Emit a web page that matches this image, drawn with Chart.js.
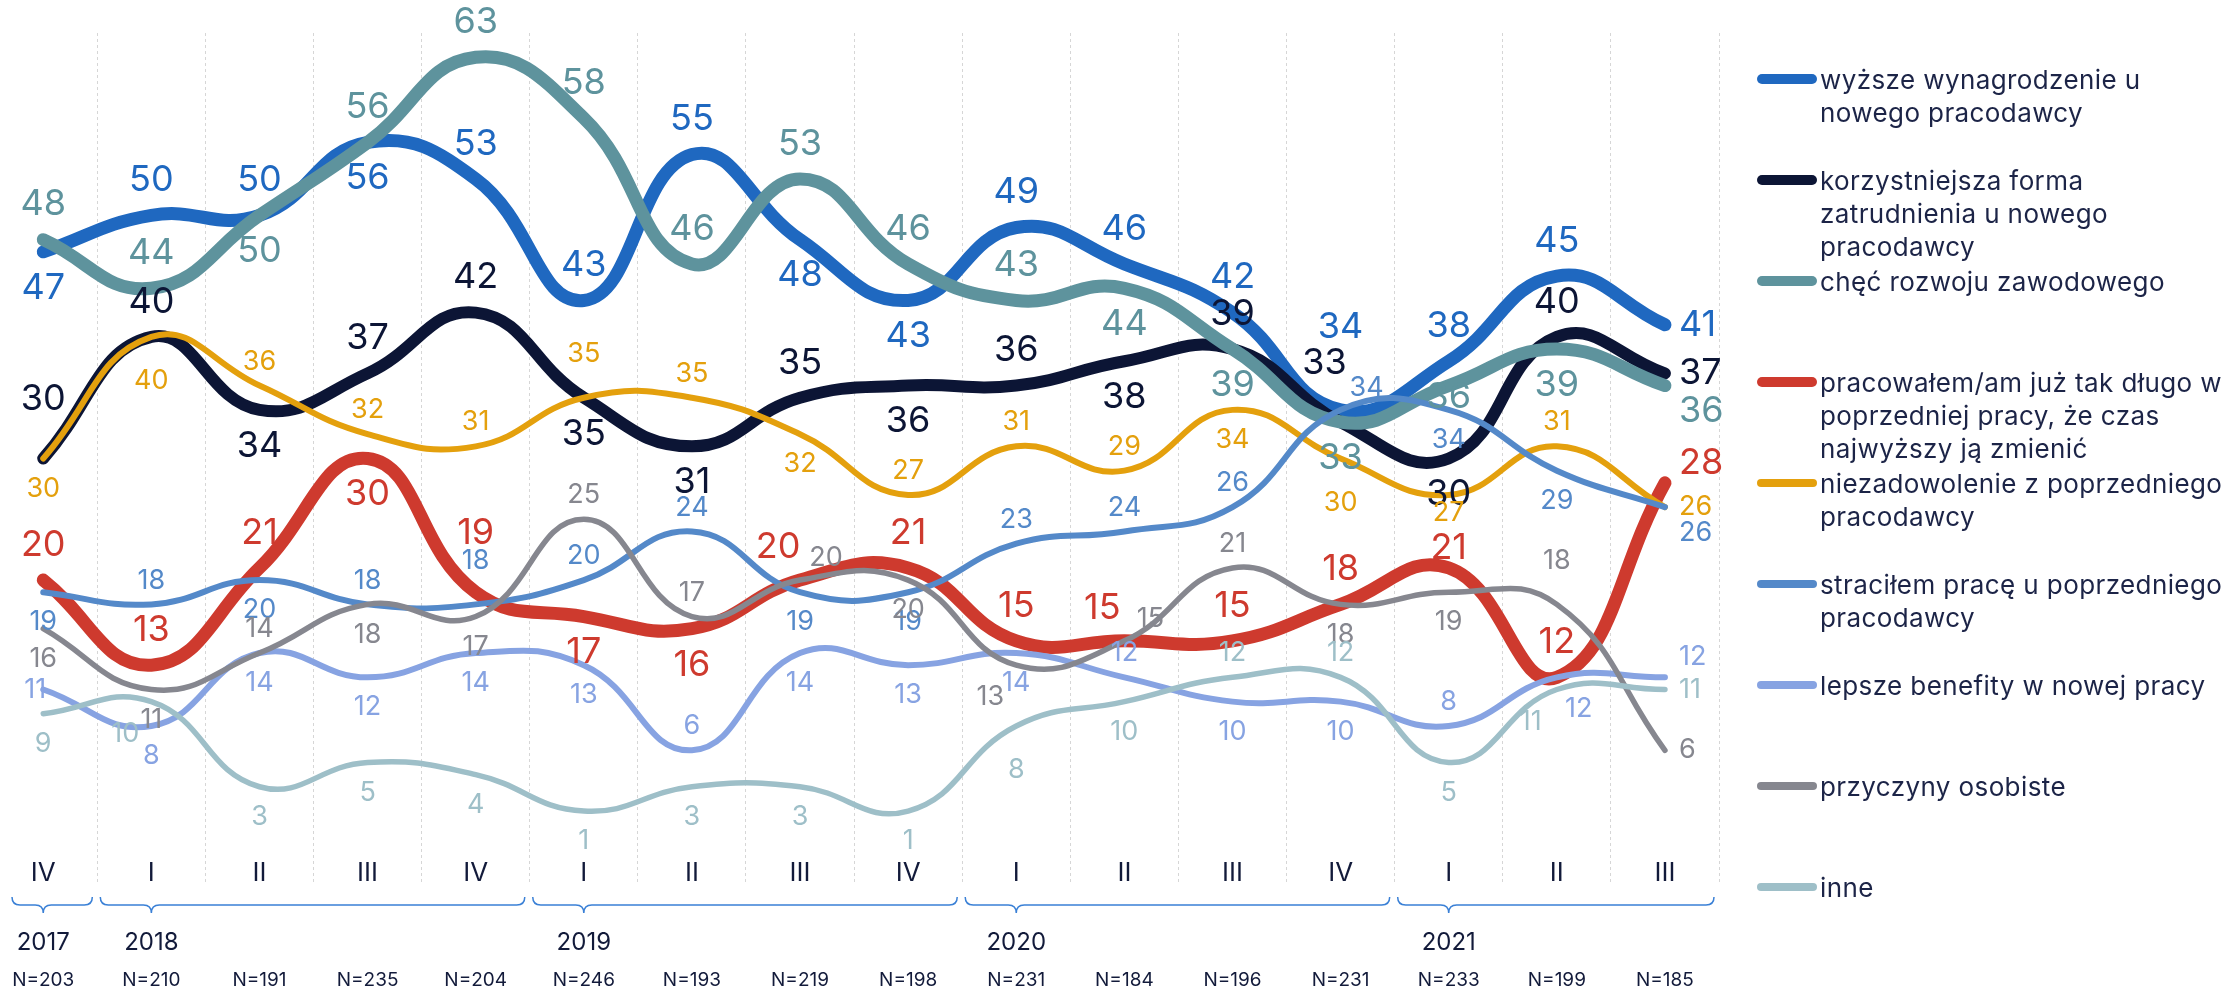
<!DOCTYPE html>
<html>
<head>
<meta charset="utf-8">
<title>Powody zmiany pracy</title>
<script src="https://cdn.jsdelivr.net/npm/chart.js@4.4.1/dist/chart.umd.min.js"></script>
<style>
body { margin: 0; background: #fff; font-family: Inter, sans-serif; }
#wrap { position: relative; width: 2231px; height: 991px; }
#legend { position: absolute; left: 1757px; top: 0; }
.item { position: absolute; left: 0; display: flex; align-items: flex-start; white-space: nowrap; }
.mark { width: 60px; height: 10px; border-radius: 5px; margin-top: 11px; margin-right: 3px; }
.txt { font-size: 26px; letter-spacing: 0.4px; line-height: 33px; color: #1c2447; }
</style>
</head>
<body>
<div id="wrap">
  <canvas id="myChart" width="2231" height="991"></canvas>
  <div id="legend"></div>
</div>

<script>
// categories
const quarters = ['IV','I','II','III','IV','I','II','III','IV','I','II','III','IV','I','II','III'];
const sampleSizes = [203,210,191,235,204,246,193,219,198,231,184,196,231,233,199,185];
const years = ['2017','2018','2019','2020','2021'];
const yearFirst = [0,1,5,9,13];
const yearLast = [0,4,8,12,15];

// series values (%)
const wyzszeWynagrodzenie = [47,50,50,56,53,43,55,48,43,49,46,42,34,38,45,41];
const korzystniejszaForma = [30,40,34,37,42,35,31,35,36,36,38,39,33,30,40,37];
const checRozwoju        = [48,44,50,56,63,58,46,53,46,43,44,39,33,36,39,36];
const pracowalemDlugo    = [20,13,21,30,19,17,16,20,21,15,15,15,18,21,12,28];
const niezadowolenie     = [30,40,36,32,31,35,35,32,27,31,29,34,30,27,31,26];
const stracilemPrace     = [19,18,20,18,18,20,24,19,19,23,24,26,34,34,29,26];
const lepszeBenefity     = [11,8,14,12,14,13,6,14,13,14,12,10,10,8,12,12];
const przyczynyOsobiste  = [16,11,14,18,17,25,17,20,20,13,15,21,18,19,18,6];
const inne               = [9,10,3,5,4,1,3,3,1,8,10,12,12,5,11,11];

// where each value label sits: a/b above/below, as/bs closer, A/AA/B further away,
// al/ar/bl/br/Al shifted sideways, c on the line, r/ra/rb right of the last point
const posWyzsze   = ['b','a','a','b','a','a','a','b','b','a','a','a','AA','a','a','r'];
const posKorzyst  = ['A','a','b','a','a','b','b','a','b','a','b','a','Al','b','a','r'];
const posChec     = ['a','a','b','a','a','a','a','a','a','a','b','b','b','bs','b','rb'];
const posPracow   = ['a','a','a','b','A','b','b','al','a','a','al','a','a','as','a','ra'];
const posNiezad   = ['b','B','a','a','a','A','a','b','a','a','a','b','B','bs','a','r'];
const posStracil  = ['b','a','b','a','A','a','a','b','b','a','a','a','ar','b','b','rb'];
const posLepsze   = ['c','b','b','b','b','b','a','b','b','b','a','b','b','a','br','ra'];
const posPrzycz   = ['b','b','a','b','b','a','a','ar','b','bl','ar','a','b','b','A','r'];
const posInne     = ['b','bl','b','b','b','b','b','b','b','B','b','a','a','b','bl','r'];

const series = [
  { label: ['wyższe wynagrodzenie u', 'nowego pracodawcy'], data: wyzszeWynagrodzenie, pos: posWyzsze, color: '#1f68c0', width: 13 },
  { label: ['korzystniejsza forma', 'zatrudnienia u nowego', 'pracodawcy'], data: korzystniejszaForma, pos: posKorzyst, color: '#0c1535', width: 12 },
  { label: ['chęć rozwoju zawodowego'], data: checRozwoju, pos: posChec, color: '#5e939d', width: 13 },
  { label: ['pracowałem/am już tak długo w', 'poprzedniej pracy, że czas', 'najwyższy ją zmienić'], data: pracowalemDlugo, pos: posPracow, color: '#ce3a2e', width: 13 },
  { label: ['niezadowolenie z poprzedniego', 'pracodawcy'], data: niezadowolenie, pos: posNiezad, color: '#e4a00d', width: 6 },
  { label: ['straciłem pracę u poprzedniego', 'pracodawcy'], data: stracilemPrace, pos: posStracil, color: '#5489c9', width: 6 },
  { label: ['lepsze benefity w nowej pracy'], data: lepszeBenefity, pos: posLepsze, color: '#87a3e2', width: 6 },
  { label: ['przyczyny osobiste'], data: przyczynyOsobiste, pos: posPrzycz, color: '#86878f', width: 5.5 },
  { label: ['inne'], data: inne, pos: posInne, color: '#9ebfc8', width: 5.5 }
];

const navy = '#121a3a';
Chart.defaults.font.family = 'Inter, sans-serif';

// value labels next to every point
const valueLabels = {
  id: 'valueLabels',
  afterDatasetsDraw(chart) {
    const ctx = chart.ctx;
    ctx.save();
    chart.data.datasets.forEach(function (ds, di) {
      const meta = chart.getDatasetMeta(di);
      const thick = ds.borderWidth >= 10;
      const fs = thick ? 36 : 27;
      const up = thick ? 35 : 24;
      const down = thick ? 36 : 30;
      ctx.font = fs + 'px Inter, sans-serif';
      ctx.fillStyle = ds.borderColor;
      ctx.textBaseline = 'middle';
      meta.data.forEach(function (pt, i) {
        const p = ds.labelPos[i];
        let x = pt.x, y = pt.y;
        ctx.textAlign = 'center';
        if (p === 'a') y -= up;
        else if (p === 'b') y += down;
        else if (p === 'as') y -= thick ? 20 : 14;
        else if (p === 'bs') y += thick ? 12 : 18;
        else if (p === 'A') y -= thick ? 59 : 44;
        else if (p === 'Al') { x -= 16; y -= thick ? 59 : 44; }
        else if (p === 'AA') y -= 83;
        else if (p === 'B') y += 44;
        else if (p === 'c') x -= 8;
        else if (p === 'al') { x -= 22; y -= up - 2; }
        else if (p === 'ar') { x += 26; y -= up - 2; }
        else if (p === 'bl') { x -= 26; y += down + 2; }
        else if (p === 'br') { x += 22; y += down + 2; }
        else {
          ctx.textAlign = 'left';
          x += 14;
          if (p === 'ra') y -= 20;
          if (p === 'rb') y += 26;
        }
        ctx.fillText(String(ds.values[i]), x, y);
      });
    });
    ctx.restore();
  }
};

// year braces, year names and sample sizes under the axis
const axisExtras = {
  id: 'axisExtras',
  afterDraw(chart) {
    const ctx = chart.ctx;
    const sc = chart.scales.xq;
    ctx.save();
    ctx.strokeStyle = '#3a80d6';
    ctx.lineWidth = 1.5;
    const y0 = 897, y1 = 905, y2 = 913, r = 8;
    years.forEach(function (yr, k) {
      let x1 = sc.getPixelForValue(yearFirst[k] - 0.5) + 3;
      let x2 = sc.getPixelForValue(yearLast[k] + 0.5) - 5;
      if (x1 < 12) x1 = 12;
      const xm = sc.getPixelForValue(yearFirst[k]);
      ctx.beginPath();
      ctx.moveTo(x1, y0);
      ctx.quadraticCurveTo(x1, y1, x1 + r, y1);
      ctx.lineTo(xm - r, y1);
      ctx.quadraticCurveTo(xm, y1, xm, y2);
      ctx.quadraticCurveTo(xm, y1, xm + r, y1);
      ctx.lineTo(x2 - r, y1);
      ctx.quadraticCurveTo(x2, y1, x2, y0);
      ctx.stroke();

      ctx.fillStyle = navy;
      ctx.textAlign = 'center';
      ctx.textBaseline = 'middle';
      ctx.font = '24px Inter, sans-serif';
      ctx.fillText(yr, xm, 943);
    });
    ctx.font = '19px Inter, sans-serif';
    sampleSizes.forEach(function (n, i) {
      ctx.fillText('N=' + n, sc.getPixelForValue(i), 980);
    });
    ctx.restore();
  }
};

const ctx = document.getElementById('myChart').getContext('2d');
window.chart = new Chart(ctx, {
  type: 'line',
  data: {
    datasets: series.map(function (s, i) {
      return {
        label: s.label.join(' '),
        data: s.data.map(function (v, k) { return { x: k, y: v }; }),
        values: s.data,
        labelPos: s.pos,
        borderColor: s.color,
        backgroundColor: s.color,
        borderWidth: s.width,
        borderCapStyle: 'round',
        borderJoinStyle: 'round',
        tension: 0.45,
        pointRadius: 0,
        fill: false,
        order: series.length - i
      };
    })
  },
  options: {
    responsive: false,
    animation: false,
    devicePixelRatio: 1,
    layout: { padding: { top: 33, right: 512, bottom: 107, left: 0 } },
    plugins: { legend: { display: false }, tooltip: { enabled: false } },
    scales: {
      x: {
        type: 'linear', min: -0.4, max: 15.5,
        afterBuildTicks: function (s) { s.ticks = quarters.map(function (q, i) { return { value: i + 0.5 }; }); },
        afterFit: function (s) { s.height = 0; },
        ticks: { display: false },
        grid: { color: '#d6d6d6', lineWidth: 1, drawTicks: false },
        border: { display: false, dash: [3, 3] }
      },
      xq: {
        type: 'linear', position: 'bottom', min: -0.4, max: 15.5,
        afterBuildTicks: function (s) { s.ticks = quarters.map(function (q, i) { return { value: i }; }); },
        afterFit: function (s) { s.height = 0; },
        ticks: {
          callback: function (v) { return quarters[v]; },
          color: navy, font: { size: 26 }, mirror: true, padding: -5,
          maxRotation: 0, autoSkip: false
        },
        grid: { display: false, drawTicks: false },
        border: { display: false }
      },
      y: { display: false, min: -5, max: 65 }
    }
  },
  plugins: [valueLabels, axisExtras]
});

// html legend
const legendDiv = document.getElementById('legend');
series.forEach(function (s, i) {
  const item = document.createElement('div');
  item.className = 'item';
  item.style.top = (79 + i * 101 - 16) + 'px';
  const mark = document.createElement('span');
  mark.className = 'mark';
  mark.style.background = s.color;
  mark.style.height = (s.width >= 10 ? 10 : 8) + 'px';
  mark.style.marginTop = (s.width >= 10 ? 11 : 12) + 'px';
  const txt = document.createElement('div');
  txt.className = 'txt';
  txt.innerHTML = s.label.join('<br>');
  item.appendChild(mark);
  item.appendChild(txt);
  legendDiv.appendChild(item);
});
</script>
</body>
</html>
